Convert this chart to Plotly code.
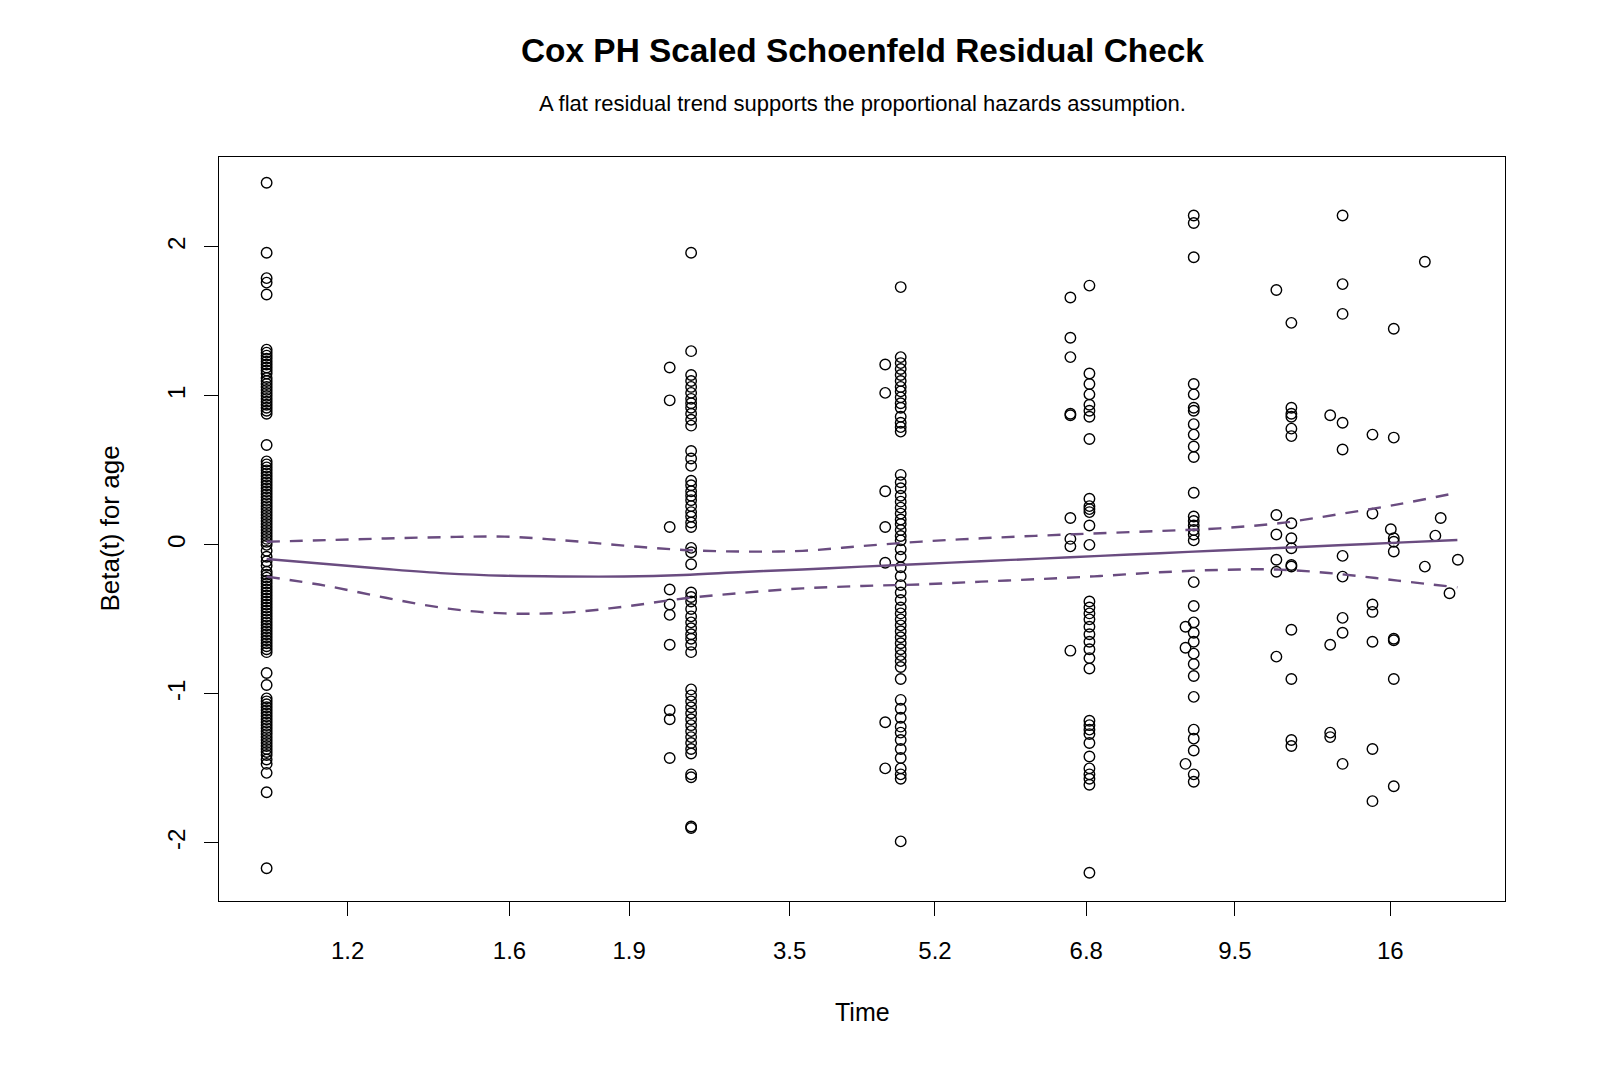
import plotly.graph_objects as go

# ---- tick positions on the transformed (KM) time scale and their labels ----
tick_pos = [0.068, 0.204, 0.3044, 0.4392, 0.5613, 0.6883, 0.8132, 0.9437]
tick_text = ["1.2", "1.6", "1.9", "3.5", "5.2", "6.8", "9.5", "16"]

# ---- transformed event times (one per residual column) ----
time_pos = [0.0, 0.3385, 0.3565, 0.5195, 0.5325, 0.675, 0.691, 0.7717, 0.7786,
            0.848, 0.8606, 0.8932, 0.9036, 0.9287, 0.9441, 0.9466, 0.9727,
            0.9815, 0.986, 0.9934, 1.0004]

# ---- scaled Schoenfeld residuals, one list per time column ----
resid_01 = [2.43, 1.96, 1.79, 1.76, 1.68,
            1.31, 1.29, 1.27, 1.25, 1.23, 1.21, 1.19, 1.17, 1.15, 1.12, 1.10, 1.08, 1.06,
            1.04, 1.02, 1.00, 0.98, 0.96, 0.94, 0.92, 0.90, 0.88,
            0.67,
            0.56, 0.54, 0.52, 0.50, 0.48, 0.46, 0.44, 0.42, 0.40, 0.38, 0.36, 0.34, 0.32,
            0.30, 0.28, 0.26, 0.24, 0.22, 0.20, 0.18, 0.16, 0.14, 0.12, 0.10, 0.08, 0.06,
            0.04, 0.02, 0.00,
            -0.04, -0.08, -0.11, -0.14,
            -0.18, -0.20, -0.22, -0.24, -0.26, -0.28, -0.30, -0.32, -0.34, -0.36, -0.38,
            -0.40, -0.42, -0.44, -0.46, -0.48, -0.50, -0.52, -0.54, -0.56, -0.58, -0.60,
            -0.62, -0.64, -0.66, -0.68, -0.70, -0.72,
            -0.86, -0.94,
            -1.03, -1.05, -1.07, -1.09, -1.11, -1.13, -1.15, -1.17, -1.19, -1.21, -1.23,
            -1.25, -1.27, -1.29, -1.31, -1.33, -1.35, -1.37, -1.39, -1.41, -1.44, -1.47,
            -1.53, -1.66, -2.17]
resid_02 = [1.19, 0.97, 0.12, -0.30, -0.40, -0.47, -0.67, -1.11, -1.17, -1.43]
resid_03 = [1.96, 1.30, 1.14, 1.10, 1.06, 1.02, 0.98, 0.95, 0.92, 0.88, 0.84, 0.80,
            0.63, 0.58, 0.53, 0.43, 0.40, 0.36, 0.33, 0.30, 0.26, 0.22, 0.19, 0.15, 0.12,
            -0.02, -0.05, -0.13,
            -0.32, -0.35, -0.38, -0.43, -0.48, -0.52, -0.56, -0.60, -0.63, -0.67, -0.72,
            -0.97, -1.01, -1.05, -1.09, -1.13, -1.17, -1.21, -1.25, -1.29, -1.33, -1.37,
            -1.40, -1.54, -1.56, -1.89, -1.90]
resid_04 = [1.21, 1.02, 0.36, 0.12, -0.12, -1.19, -1.50]
resid_05 = [1.73, 1.26, 1.22, 1.18, 1.14, 1.10, 1.06, 1.03, 0.99, 0.95, 0.92, 0.86, 0.82,
            0.79, 0.76,
            0.47, 0.42, 0.38, 0.33, 0.29, 0.25, 0.21, 0.17, 0.14, 0.10, 0.06, 0.03,
            -0.03, -0.08, -0.15, -0.21, -0.27, -0.32, -0.37, -0.42, -0.46, -0.50, -0.54,
            -0.58, -0.62, -0.66, -0.70, -0.74, -0.78, -0.82,
            -0.90, -1.04, -1.10, -1.16, -1.22, -1.26, -1.31, -1.37, -1.43, -1.50, -1.54,
            -1.57, -1.99]
resid_06 = [1.66, 1.39, 1.26, 0.88, 0.87, 0.18, 0.04, -0.01, -0.71]
resid_07 = [1.74, 1.15, 1.08, 1.01, 0.94, 0.90, 0.86, 0.71, 0.31, 0.26, 0.24, 0.22, 0.13,
            0.00, -0.38, -0.42, -0.46, -0.50, -0.55, -0.60, -0.65, -0.70, -0.76, -0.83,
            -1.18, -1.21, -1.24, -1.27, -1.33, -1.42, -1.50, -1.54, -1.57, -1.61, -2.20]
resid_08 = [-0.55, -0.69, -1.47]
resid_09 = [2.21, 2.16, 1.93, 1.08, 1.01, 0.92, 0.90, 0.81, 0.74, 0.66, 0.59, 0.35, 0.19,
            0.16, 0.13, 0.10, 0.07, 0.03, -0.25, -0.41, -0.52, -0.59, -0.65, -0.73, -0.80,
            -0.88, -1.02, -1.24, -1.30, -1.38, -1.54, -1.59]
resid_10 = [1.71, 0.20, 0.07, -0.10, -0.18, -0.75]
resid_11 = [1.49, 0.92, 0.88, 0.86, 0.78, 0.73, 0.145, 0.044, -0.023, -0.135, -0.145,
            -0.57, -0.90, -1.31, -1.35]
resid_12 = [0.87, -0.67, -1.26, -1.29]
resid_13 = [2.21, 1.75, 1.55, 0.82, 0.64, -0.074, -0.213, -0.49, -0.59, -1.47]
resid_14 = [0.74, 0.21, -0.40, -0.45, -0.65, -1.37, -1.72]
resid_15 = [0.105]
resid_16 = [1.45, 0.72, 0.044, 0.021, -0.045, -0.63, -0.64, -0.90, -1.62]
resid_17 = [1.90, -0.146]
resid_18 = [0.062]
resid_19 = [0.18]
resid_20 = [-0.325]
resid_21 = [-0.10]

resid_cols = [resid_01, resid_02, resid_03, resid_04, resid_05, resid_06, resid_07,
              resid_08, resid_09, resid_10, resid_11, resid_12, resid_13, resid_14,
              resid_15, resid_16, resid_17, resid_18, resid_19, resid_20, resid_21]

# ---- smoothed beta(t) fit and its confidence band ----
fit_x = [0.0, 0.05, 0.1, 0.15, 0.2, 0.25, 0.3, 0.35, 0.4, 0.45, 0.5, 0.55, 0.6, 0.65,
         0.7, 0.75, 0.8, 0.85, 0.9, 0.95, 1.0]
fit_mid = [-0.095, -0.128, -0.162, -0.191, -0.207, -0.212, -0.212, -0.202, -0.182,
           -0.165, -0.146, -0.128, -0.110, -0.092, -0.074, -0.056, -0.038, -0.021,
           -0.003, 0.015, 0.033]
fit_upper = [0.021, 0.032, 0.043, 0.052, 0.055, 0.030, -0.005, -0.034, -0.045, -0.040,
             -0.008, 0.022, 0.044, 0.062, 0.078, 0.093, 0.111, 0.145, 0.205, 0.272, 0.350]
fit_lower = [-0.213, -0.275, -0.355, -0.425, -0.460, -0.455, -0.415, -0.360, -0.322,
             -0.292, -0.276, -0.265, -0.247, -0.229, -0.209, -0.184, -0.168, -0.166,
             -0.195, -0.240, -0.285]

pts_x, pts_y = [], []
for t, col in zip(time_pos, resid_cols):
    for v in col:
        pts_x.append(t)
        pts_y.append(v)

PURPLE = "#6A4C80"
FONT = "Liberation Sans, Arial, sans-serif"

fig = go.Figure()
fig.add_trace(go.Scatter(
    x=pts_x, y=pts_y, mode="markers",
    marker=dict(symbol="circle-open", size=10.5, color="black", line=dict(width=1.4, color="black")),
    hoverinfo="x+y", showlegend=False))
fig.add_trace(go.Scatter(
    x=fit_x, y=fit_mid, mode="lines", line=dict(color=PURPLE, width=2.4, shape="spline"),
    showlegend=False))
for band in (fit_upper, fit_lower):
    fig.add_trace(go.Scatter(
        x=fit_x, y=band, mode="lines",
        line=dict(color=PURPLE, width=2.4, dash="13px,10px", shape="spline"),
        showlegend=False))

fig.update_layout(
    width=1600, height=1091,
    margin=dict(l=219, r=95, t=157, b=190),
    paper_bgcolor="white", plot_bgcolor="white",
    font=dict(family=FONT, color="black", size=24),
    showlegend=False,
    annotations=[
        dict(text="<b>Cox PH Scaled Schoenfeld Residual Check</b>", xref="paper", yref="paper",
             x=0.5, y=(901 - 51) / 744, xanchor="center", yanchor="middle",
             showarrow=False, font=dict(size=33.4, family=FONT, color="black")),
        dict(text="A flat residual trend supports the proportional hazards assumption.",
             xref="paper", yref="paper", x=0.5, y=(901 - 104) / 744,
             xanchor="center", yanchor="middle", showarrow=False,
             font=dict(size=22, family=FONT, color="black")),
        dict(text="Time", xref="paper", yref="paper", x=0.5, y=(901 - 1012) / 744,
             xanchor="center", yanchor="middle", showarrow=False,
             font=dict(size=25, family=FONT, color="black")),
        dict(text="Beta(t) for age", xref="paper", yref="paper", x=(110 - 219.4) / 1285.7,
             y=0.5, xanchor="center", yanchor="middle", textangle=-90, showarrow=False,
             font=dict(size=26, family=FONT, color="black")),
    ],
)
fig.update_xaxes(
    range=[-0.04, 1.04], tickmode="array", tickvals=tick_pos, ticktext=tick_text,
    ticks="outside", ticklen=14, tickwidth=1, tickcolor="black",
    showline=True, linecolor="black", linewidth=1, mirror=True,
    showgrid=False, zeroline=False, ticklabelstandoff=14,
    tickfont=dict(size=24, family=FONT, color="black"))
fig.update_yaxes(
    range=[-2.39, 2.603], tickmode="array", tickvals=[-2, -1, 0, 1, 2],
    ticktext=["-2", "-1", "0", "1", "2"], tickangle=-90,
    ticks="outside", ticklen=14, tickwidth=1, tickcolor="black",
    showline=True, linecolor="black", linewidth=1, mirror=True,
    showgrid=False, zeroline=False, ticklabelstandoff=9,
    tickfont=dict(size=24, family=FONT, color="black"))

fig.write_html("out.html")
